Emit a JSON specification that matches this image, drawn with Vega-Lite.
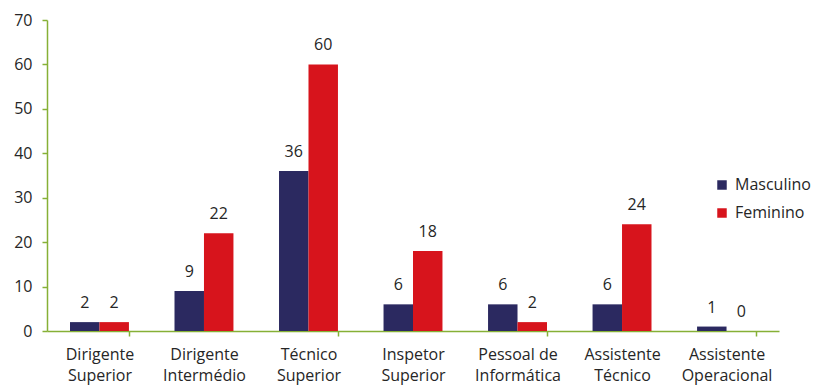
{
  "$schema": "https://vega.github.io/schema/vega-lite/v6.json",
  "autosize": {"type": "none"},
  "width": 732,
  "height": 311,
  "padding": {"left": 47, "top": 20, "right": 34, "bottom": 54},
  "background": "white",
  "config": {
    "view": {"stroke": null},
    "font": "Open Sans",
    "text": {"font": "Open Sans"}
  },
  "data": {
    "values": [
      {"cat": "Dirigente Superior", "sexo": "Masculino", "n": 2},
      {"cat": "Dirigente Superior", "sexo": "Feminino", "n": 2},
      {"cat": "Dirigente Intermédio", "sexo": "Masculino", "n": 9},
      {"cat": "Dirigente Intermédio", "sexo": "Feminino", "n": 22},
      {"cat": "Técnico Superior", "sexo": "Masculino", "n": 36},
      {"cat": "Técnico Superior", "sexo": "Feminino", "n": 60},
      {"cat": "Inspetor Superior", "sexo": "Masculino", "n": 6},
      {"cat": "Inspetor Superior", "sexo": "Feminino", "n": 18},
      {"cat": "Pessoal de Informática", "sexo": "Masculino", "n": 6},
      {"cat": "Pessoal de Informática", "sexo": "Feminino", "n": 2},
      {"cat": "Assistente Técnico", "sexo": "Masculino", "n": 6},
      {"cat": "Assistente Técnico", "sexo": "Feminino", "n": 24},
      {"cat": "Assistente Operacional", "sexo": "Masculino", "n": 1},
      {"cat": "Assistente Operacional", "sexo": "Feminino", "n": 0}
    ]
  },
  "encoding": {
    "x": {
      "field": "cat",
      "type": "nominal",
      "sort": null,
      "title": null,
      "scale": {"paddingInner": 0.436, "paddingOuter": 0.22},
      "axis": {
        "domainColor": "#86b036",
        "domainWidth": 1.5,
        "ticks": true,
        "tickBand": "extent",
        "tickSize": 5,
        "tickWidth": 1.5,
        "tickColor": "#86b036",
        "tickOpacity": {"condition": {"test": "indexof(['Dirigente Superior','Técnico Superior','Pessoal de Informática','Assistente Operacional'], datum.value) >= 0", "value": 1}, "value": 0},
        "labelAngle": 0,
        "labelPadding": 10,
        "labelFontSize": 16,
        "labelColor": "#262626",
        "labelLineHeight": 21,
        "labelFont": "Open Sans",
        "labelExpr": "datum.label == 'Pessoal de Informática' ? ['Pessoal de', 'Informática'] : split(datum.label, ' ')"
      }
    },
    "xOffset": {"field": "sexo", "type": "nominal", "sort": ["Masculino", "Feminino"], "scale": {"paddingInner": 0, "paddingOuter": 0}},
    "y": {
      "field": "n",
      "type": "quantitative",
      "title": null,
      "scale": {"domain": [0, 70]},
      "axis": {
        "values": [0, 10, 20, 30, 40, 50, 60, 70],
        "grid": false,
        "domainColor": "#86b036",
        "domainWidth": 1.5,
        "tickColor": "#86b036",
        "tickWidth": 1.5,
        "tickSize": 5,
        "labelPadding": 10,
        "labelFontSize": 16,
        "labelColor": "#262626",
        "labelFont": "Open Sans"
      }
    }
  },
  "layer": [
    {
      "mark": {"type": "bar"},
      "encoding": {
        "color": {
          "field": "sexo",
          "type": "nominal",
          "sort": ["Masculino", "Feminino"],
          "scale": {"domain": ["Masculino", "Feminino"], "range": ["#2b2960", "#d7141c"]},
          "legend": {
            "title": null,
            "orient": "none",
            "legendX": 667,
            "legendY": 157,
            "symbolType": "square",
            "symbolSize": 90,
            "symbolStrokeWidth": 0,
            "labelFontSize": 16,
            "labelColor": "#262626",
            "labelFont": "Open Sans",
            "labelOffset": 5,
            "rowPadding": 12
          }
        }
      }
    },
    {
      "mark": {"type": "text", "baseline": "middle", "dy": -19, "fontSize": 16, "color": "#262626", "font": "Open Sans"},
      "encoding": {"text": {"field": "n", "type": "quantitative"}}
    }
  ]
}
